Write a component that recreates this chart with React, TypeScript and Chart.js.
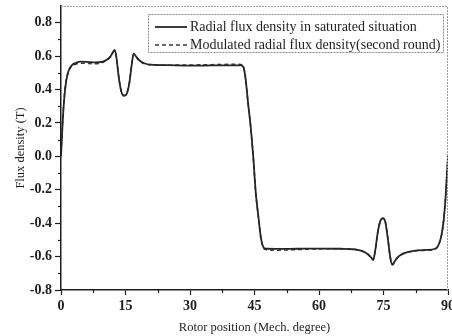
import React, { useEffect, useRef } from 'react';
import Chart from 'chart.js/auto';

// Rotor position (mechanical degrees) sample points
const rotorPos = [
  0, 0.3, 0.7, 1.2, 1.8, 2.5, 3.5, 4.5, 6, 8, 9.5, 10.5, 11.5, 12.1, 12.5, 12.9, 13.4, 14.0, 14.7, 15.3,
  15.9, 16.4, 16.9, 17.4, 18.2, 19.5, 21, 25, 30, 35, 40, 41.8, 42.4, 42.9, 43.5, 44.1, 44.7, 45.3, 45.9, 46.5,
  47.0, 47.6, 50, 55, 60, 65, 68, 70, 71.3, 72.1, 72.6, 73.1, 73.7, 74.3, 74.8, 75.4, 76.0, 76.6, 77.1, 77.7,
  78.6, 80, 82, 85, 87, 87.8, 88.5, 89.0, 89.4, 89.7, 90,
];

// Radial flux density in saturated situation (T)
const saturated = [
  0.0, 0.16, 0.33, 0.45, 0.515, 0.545, 0.56, 0.567, 0.566, 0.563, 0.566, 0.576, 0.597, 0.625, 0.637, 0.59, 0.48, 0.39, 0.362, 0.375,
  0.44, 0.54, 0.615, 0.6, 0.575, 0.556, 0.549, 0.546, 0.543, 0.544, 0.545, 0.545, 0.535, 0.47, 0.32, 0.18, 0.0, -0.22, -0.36, -0.49,
  -0.54, -0.553, -0.554, -0.553, -0.552, -0.553, -0.556, -0.566, -0.585, -0.605, -0.62, -0.56, -0.45, -0.385, -0.37, -0.39, -0.49, -0.61, -0.65, -0.625,
  -0.597, -0.578, -0.566, -0.56, -0.553, -0.53, -0.47, -0.38, -0.26, -0.13, 0.0,
];

// Modulated radial flux density (second round) (T)
const modulated = [
  0.02, 0.17, 0.34, 0.455, 0.51, 0.54, 0.552, 0.558, 0.556, 0.554, 0.56, 0.574, 0.596, 0.622, 0.633, 0.588, 0.48, 0.392, 0.365, 0.378,
  0.44, 0.54, 0.612, 0.598, 0.572, 0.553, 0.547, 0.546, 0.547, 0.549, 0.551, 0.55, 0.538, 0.47, 0.32, 0.18, 0.0, -0.22, -0.36, -0.49,
  -0.545, -0.558, -0.562, -0.558, -0.554, -0.553, -0.556, -0.566, -0.585, -0.605, -0.618, -0.56, -0.45, -0.385, -0.372, -0.39, -0.49, -0.608, -0.645, -0.622,
  -0.597, -0.578, -0.567, -0.562, -0.556, -0.533, -0.47, -0.38, -0.26, -0.13, 0.0,
];

const seriesLabels = [
  'Radial flux density in saturated situation',
  'Modulated radial flux density(second round)',
];

const xMajorTicks = [0, 15, 30, 45, 60, 75, 90];
const xMinorTicks = [7.5, 22.5, 37.5, 52.5, 67.5, 82.5];
const yMajorTicks = [-0.8, -0.6, -0.4, -0.2, 0.0, 0.2, 0.4, 0.6, 0.8];
const yMinorTicks = [-0.7, -0.5, -0.3, -0.1, 0.1, 0.3, 0.5, 0.7];

const xTitle = 'Rotor position (Mech. degree)';
const yTitle = 'Flux density (T)';

const SERIF = '"Liberation Serif", "Times New Roman", serif';
const INK = '#1e1e1e';

const decorPlugin = {
  id: 'decor',
  afterDraw(chart: any) {
    const { ctx, chartArea: a, scales } = chart;
    const x = scales.x;
    const y = scales.y;
    ctx.save();
    // light frame on top and right
    ctx.strokeStyle = '#9c9c9c';
    ctx.lineWidth = 1;
    ctx.setLineDash([2, 1]);
    ctx.beginPath();
    ctx.moveTo(a.left, a.top + 0.5);
    ctx.lineTo(a.right - 0.5, a.top + 0.5);
    ctx.lineTo(a.right - 0.5, a.bottom);
    ctx.stroke();
    ctx.setLineDash([]);
    // minor ticks
    ctx.strokeStyle = INK;
    ctx.lineWidth = 1.2;
    xMinorTicks.forEach((v) => {
      const px = Math.round(x.getPixelForValue(v)) + 0.5;
      ctx.beginPath();
      ctx.moveTo(px, a.bottom);
      ctx.lineTo(px, a.bottom + 3);
      ctx.stroke();
    });
    yMinorTicks.forEach((v) => {
      const py = Math.round(y.getPixelForValue(v)) + 0.5;
      ctx.beginPath();
      ctx.moveTo(a.left, py);
      ctx.lineTo(a.left - 3, py);
      ctx.stroke();
    });
    // legend inside the plot
    const bx = 148.5, by = 14.5, bw = 295, bh = 38;
    ctx.strokeStyle = '#8a8a8a';
    ctx.lineWidth = 1;
    ctx.setLineDash([2, 1]);
    ctx.strokeRect(bx, by, bw, bh);
    ctx.setLineDash([]);
    const rows = [27, 45];
    chart.data.datasets.forEach((ds: any, i: number) => {
      const ry = rows[i];
      ctx.strokeStyle = ds.borderColor;
      ctx.lineWidth = ds.borderWidth;
      ctx.setLineDash(ds.borderDash || []);
      ctx.beginPath();
      ctx.moveTo(155, ry);
      ctx.lineTo(187, ry);
      ctx.stroke();
      ctx.setLineDash([]);
      ctx.fillStyle = INK;
      ctx.font = '14px ' + SERIF;
      ctx.textBaseline = 'middle';
      ctx.textAlign = 'left';
      ctx.fillText(ds.label, 190, ry);
    });
    ctx.restore();
  },
};

export default function App() {
  const ref = useRef<HTMLCanvasElement | null>(null);

  useEffect(() => {
    document.body.style.margin = '0';
    const toPoints = (ys: number[]) => rotorPos.map((xv, i) => ({ x: xv, y: ys[i] }));
    const chart = new Chart(ref.current as HTMLCanvasElement, {
      type: 'line',
      data: {
        datasets: [
          {
            label: seriesLabels[0],
            data: toPoints(saturated),
            borderColor: '#262626',
            borderWidth: 1.8,
            pointRadius: 0,
            cubicInterpolationMode: 'monotone',
            fill: false,
          },
          {
            label: seriesLabels[1],
            data: toPoints(modulated),
            borderColor: '#3a3a3a',
            borderWidth: 1.5,
            borderDash: [4, 3],
            pointRadius: 0,
            cubicInterpolationMode: 'monotone',
            fill: false,
          },
        ],
      },
      options: {
        animation: false,
        responsive: false,
        devicePixelRatio: 1,
        layout: { padding: { top: 6, right: 4, left: 0, bottom: 0 }, autoPadding: false },
        plugins: { legend: { display: false }, tooltip: { enabled: false } },
        scales: {
          x: {
            type: 'linear',
            min: 0,
            max: 90,
            afterBuildTicks: (s: any) => { s.ticks = xMajorTicks.map((v) => ({ value: v })); },
            afterFit: (s: any) => { s.height = 46; s.paddingLeft = 0; s.paddingRight = 0; },
            ticks: {
              color: INK,
              font: { family: SERIF, size: 14, weight: 'bold' },
              padding: 3,
              maxRotation: 0,
              autoSkip: false,
              callback: (v: any) => String(v),
            },
            grid: { drawOnChartArea: false, drawTicks: true, tickLength: 5, tickWidth: 1.2, tickColor: INK },
            border: { display: true, color: INK, width: 1.5 },
            title: { display: true, text: xTitle, color: INK, font: { family: SERIF, size: 12.5 }, padding: { top: 0, bottom: 0.5 } },
          },
          y: {
            type: 'linear',
            min: -0.8,
            max: 0.9,
            afterBuildTicks: (s: any) => { s.ticks = yMajorTicks.map((v) => ({ value: v })); },
            afterFit: (s: any) => { s.width = 61; s.paddingTop = 0; s.paddingBottom = 0; },
            ticks: {
              color: INK,
              font: { family: SERIF, size: 14, weight: 'bold' },
              padding: 3,
              autoSkip: false,
              callback: (v: any) => Number(v).toFixed(1),
            },
            grid: { drawOnChartArea: false, drawTicks: true, tickLength: 6, tickWidth: 1.2, tickColor: INK },
            border: { display: true, color: INK, width: 1.5 },
            title: { display: true, text: yTitle, color: INK, font: { family: SERIF, size: 12.5 }, padding: { top: 13, bottom: 0 } },
          },
        },
      },
      plugins: [decorPlugin],
    } as any);
    return () => chart.destroy();
  }, []);

  return (
    <div style={{ position: 'fixed', left: 0, top: 0, width: 452, height: 336, background: '#fff' }}>
      <canvas ref={ref} width={452} height={336} style={{ display: 'block' }} />
    </div>
  );
}
